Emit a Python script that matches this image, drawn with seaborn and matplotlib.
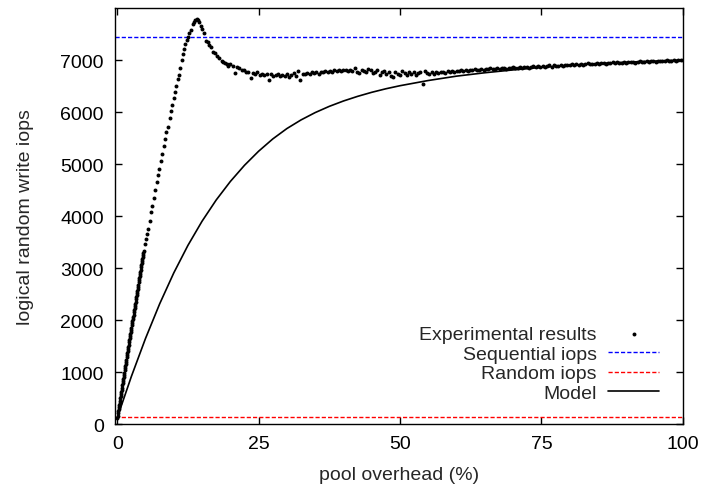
import matplotlib
matplotlib.use("Agg")
import matplotlib.pyplot as plt
import seaborn as sns
import pandas as pd
import numpy as np

# horizontal reference levels
seq_iops = 7440
rand_iops = 140

# experimental results: dense start, sampled every 0.06 % from 0 to 4.68 %
dense_start, dense_step = 0.0, 0.06
dense_y = [120, 160, 205, 245, 290, 330, 370, 410, 450, 495,
           535, 580, 620, 660, 700, 745, 785, 825, 865, 910,
           950, 990, 1030, 1075, 1115, 1155, 1195, 1240, 1280, 1320,
           1360, 1405, 1445, 1485, 1525, 1570, 1610, 1650, 1690, 1735,
           1775, 1815, 1855, 1900, 1940, 1980, 2020, 2065, 2105, 2145,
           2185, 2230, 2270, 2310, 2350, 2395, 2435, 2475, 2515, 2560,
           2600, 2640, 2680, 2725, 2765, 2805, 2845, 2890, 2930, 2970,
           3010, 3055, 3095, 3135, 3175, 3215, 3255, 3295, 3330]
dense_x = list(np.round(dense_start + dense_step * np.arange(len(dense_y)), 2))

# sparse part around the peak
peak_x = [4.83, 5.0, 5.24, 5.41, 5.71, 5.95, 6.18, 6.42, 6.71, 6.95,
          7.19, 7.42, 7.66, 7.95, 8.19, 8.42, 8.66, 8.89, 9.25, 9.48,
          9.72, 10.07, 10.19, 10.42, 10.72, 10.95, 11.13, 11.43, 11.66, 11.84,
          12.07, 12.33, 12.6, 12.77, 13.02, 13.37, 13.66, 13.83, 14.08, 14.31,
          14.54, 14.78, 15.07, 15.37, 15.67, 16.02, 16.31, 16.61, 17.01, 17.31,
          17.61, 18.07, 18.5, 18.78, 19.08, 19.38, 19.66]
peak_y = [3462, 3558, 3654, 3750, 3910, 4071, 4199, 4353, 4506, 4647,
          4788, 4904, 5051, 5199, 5340, 5474, 5615, 5718, 5891, 6026,
          6141, 6263, 6391, 6500, 6635, 6718, 6840, 7006, 7115, 7212,
          7314, 7380, 7448, 7513, 7583, 7692, 7737, 7775, 7788, 7775,
          7725, 7660, 7596, 7519, 7371, 7340, 7288, 7256, 7160, 7128,
          7083, 7032, 6987, 6955, 6936, 6923, 6891]

# plateau, sampled every 0.4 % from 20 to 100
plateau_start, plateau_step = 20.0, 0.4
plateau_y = [
    6925, 6890, 6745, 6860, 6840, 6815, 6800, 6765, 6770, 6655,
    6745, 6730, 6760, 6720, 6740, 6710, 6735, 6625, 6725, 6700,
    6715, 6740, 6690, 6720, 6700, 6730, 6680, 6710, 6745, 6700,
    6780, 6625, 6735, 6740, 6755, 6730, 6760, 6750, 6765, 6740,
    6770, 6760, 6785, 6775, 6790, 6765, 6800, 6780, 6810, 6790,
    6800, 6815, 6790, 6805, 6780, 6840, 6770, 6750, 6800, 6785,
    6760, 6820, 6810, 6745, 6770, 6800, 6720, 6760, 6790, 6735,
    6760, 6700, 6665, 6770, 6740, 6720, 6780, 6750, 6705, 6760,
    6735, 6770, 6720, 6745, 6765, 6540, 6790, 6750, 6725, 6760,
    6740, 6770, 6745, 6760, 6775, 6750, 6780, 6765, 6790, 6770,
    6795, 6780, 6800, 6790, 6810, 6785, 6805, 6800, 6820, 6810,
    6815, 6825, 6805, 6830, 6820, 6840, 6825, 6835, 6845, 6830,
    6850, 6840, 6830, 6855, 6845, 6860, 6840, 6850, 6865, 6855,
    6860, 6875, 6855, 6870, 6880, 6865, 6885, 6870, 6890, 6875,
    6880, 6895, 6870, 6900, 6885, 6890, 6905, 6880, 6895, 6910,
    6900, 6915, 6895, 6920, 6905, 6925, 6910, 6920, 6935, 6915,
    6930, 6920, 6945, 6925, 6935, 6950, 6930, 6945, 6935, 6955,
    6945, 6960, 6940, 6950, 6965, 6945, 6960, 6955, 6970, 6950,
    6965, 6975, 6955, 6970, 6980, 6960, 6975, 6985, 6970, 6980,
    6990, 6975, 6985, 6995, 6980, 6990, 7000, 6985, 6995, 7005,
    7000]
plateau_x = list(np.round(plateau_start + plateau_step * np.arange(len(plateau_y)), 2))

# model curve
model_x = [0, 2.5, 5, 7.5, 10, 12.5, 15, 17.5, 20, 22.5, 25, 27.5, 30, 32.5,
           35, 37.5, 40, 42.5, 45, 47.5, 50, 55, 60, 65, 70, 75, 80, 85, 90, 95, 100]
model_y = [120, 914, 1645, 2310, 2906, 3435, 3900, 4308, 4664, 4975, 5246, 5482,
           5682, 5848, 5989, 6109, 6212, 6301, 6379, 6447, 6506, 6606, 6690,
           6755, 6810, 6858, 6898, 6932, 6958, 6980, 7000]

exp = pd.DataFrame({"overhead": dense_x + peak_x + plateau_x,
                    "iops": dense_y + peak_y + plateau_y})

sns.set_style("ticks")
plt.rcParams['font.family'] = ['Liberation Sans', 'DejaVu Sans']
plt.rcParams['axes.edgecolor'] = 'black'
plt.rcParams['axes.linewidth'] = 1.0

fig, ax = plt.subplots(figsize=(7.01, 4.85), dpi=100)
fig.subplots_adjust(left=0.164, right=0.974, bottom=0.1237, top=0.9814)

sns.scatterplot(data=exp, x="overhead", y="iops", color="black", s=8,
                linewidth=0, ax=ax, label="Experimental results", zorder=3)
ax.axhline(seq_iops, color="#0000ff", lw=1.0, ls=(0, (3, 1.5)), label="Sequential iops")
ax.axhline(rand_iops, color="#ff0000", lw=1.0, ls=(0, (3, 1.5)), label="Random iops")
sns.lineplot(x=model_x, y=model_y, color="black", lw=1.2, ax=ax, label="Model")

ax.set_xlim(-0.4, 100)
ax.set_ylim(0, 8000)
ax.set_xticks([0, 25, 50, 75, 100])
ax.set_yticks(range(0, 7001, 1000))
ax.tick_params(direction="in", length=5, width=1, top=True, right=True,
               labelsize=14, pad=8, colors="black")
ax.set_xlabel("pool overhead (%)", fontsize=14, labelpad=10)
ax.set_ylabel("logical random write iops", fontsize=14, labelpad=19)

handles, labels = ax.get_legend_handles_labels()
order = ["Experimental results", "Sequential iops", "Random iops", "Model"]
hmap = dict(zip(labels, handles))
leg = ax.legend([hmap[k] for k in order], order, loc="lower right",
                bbox_to_anchor=(659 / 701, 1 - 403 / 485), bbox_transform=fig.transFigure,
                frameon=False, markerfirst=False, fontsize=14, handlelength=2.6,
                handletextpad=0.6, labelspacing=0.1, borderpad=0, borderaxespad=0,
                scatterpoints=1)
vp = leg._legend_box._children[-1]._children[0]
vp.align = "right"

fig.savefig("out.png", dpi=100)
